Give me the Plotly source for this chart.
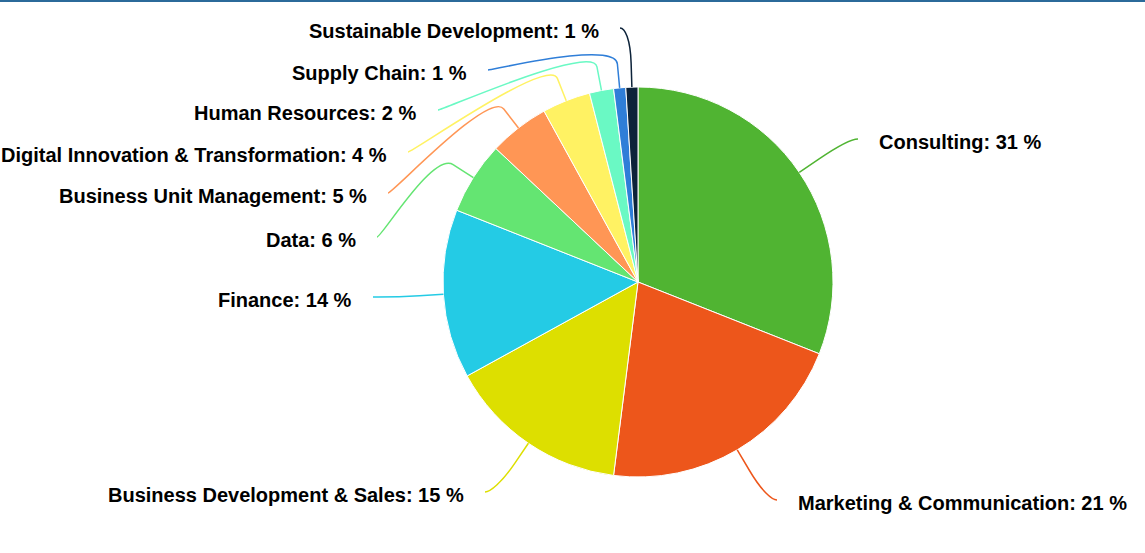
import math
import plotly.graph_objects as go

# ---------------- data ----------------
categories = [
    "Consulting",
    "Marketing & Communication",
    "Business Development & Sales",
    "Finance",
    "Data",
    "Business Unit Management",
    "Digital Innovation & Transformation",
    "Human Resources",
    "Supply Chain",
    "Sustainable Development",
]
shares = [31, 21, 15, 14, 6, 5, 4, 2, 1, 1]
colors = ["#50B432", "#ED561B", "#DDDF00", "#24CBE5", "#64E572",
          "#FF9655", "#FFF263", "#6AF9C4", "#2f7ed8", "#0d233a"]

# ---------------- layout constants ----------------
W, H = 1145, 553
CX, CY, R = 638, 282, 195          # pie centre / radius in px
BREAK = 24                          # radial length of connector stub
TEXT_GAP = 21                       # gap between connector end and label text
FONT_SIZE = 20
# where each connector meets its label (px, top-left origin)
label_anchor_x = [858, 777, 485, 373, 377, 388, 408, 438, 488, 620]
label_anchor_y = [139, 500, 492, 297, 237, 193, 152, 110, 70, 28]

fig = go.Figure()

# invisible trace to create a pixel-like cartesian frame for overlays
fig.add_trace(go.Scatter(x=[None], y=[None], showlegend=False, hoverinfo="skip"))

fig.add_trace(go.Pie(
    labels=categories,
    values=shares,
    sort=False,
    direction="clockwise",
    rotation=0,
    textinfo="none",
    marker=dict(colors=colors, line=dict(color="#ffffff", width=1)),
    domain=dict(x=[(CX - R) / W, (CX + R) / W],
                y=[1 - (CY + R) / H, 1 - (CY - R) / H]),
    showlegend=False,
    hovertemplate="%{label}: %{value} %<extra></extra>",
))

total = float(sum(shares))
shapes = []
annotations = []
cum = 0.0
for i, (cat, v, col) in enumerate(zip(categories, shares, colors)):
    mid = (cum + v / 2.0) / total * 2 * math.pi
    cum += v
    dx, dy = math.sin(mid), -math.cos(mid)
    ex, ey = CX + R * dx, CY + R * dy
    bx, by = CX + (R + BREAK) * dx, CY + (R + BREAK) * dy
    lx, ly = label_anchor_x[i], label_anchor_y[i]
    right = dx > 0
    c1x = lx + (-5 if right else 5)
    path = (f"M {lx},{ly} C {c1x},{ly} {2*bx-ex},{2*by-ey} {bx},{by} "
            f"L {ex},{ey}")
    shapes.append(dict(type="path", path=path, xref="x", yref="y",
                       line=dict(color=col, width=1.5), layer="above"))
    annotations.append(dict(
        x=lx + (TEXT_GAP if right else -TEXT_GAP), y=ly + 3,
        xref="x", yref="y",
        xanchor="left" if right else "right", yanchor="middle",
        text=f"<b>{cat}: {v} %</b>", showarrow=False,
        borderpad=0, borderwidth=0,
        font=dict(family="Liberation Sans, Arial, sans-serif", size=FONT_SIZE,
                  color="#000000"),
    ))

# top border line
shapes.append(dict(type="rect", xref="x", yref="y", x0=0, x1=W, y0=0, y1=2,
                   fillcolor="#2b6a9a", line=dict(width=0), layer="above"))

fig.update_layout(
    width=W, height=H, autosize=False,
    margin=dict(l=0, r=0, t=0, b=0),
    template="none",
    paper_bgcolor="#ffffff", plot_bgcolor="#ffffff",
    xaxis=dict(range=[0, W], visible=False, fixedrange=True),
    yaxis=dict(range=[H, 0], visible=False, fixedrange=True),
    shapes=shapes,
    annotations=annotations,
)

fig.write_html("out.html")
